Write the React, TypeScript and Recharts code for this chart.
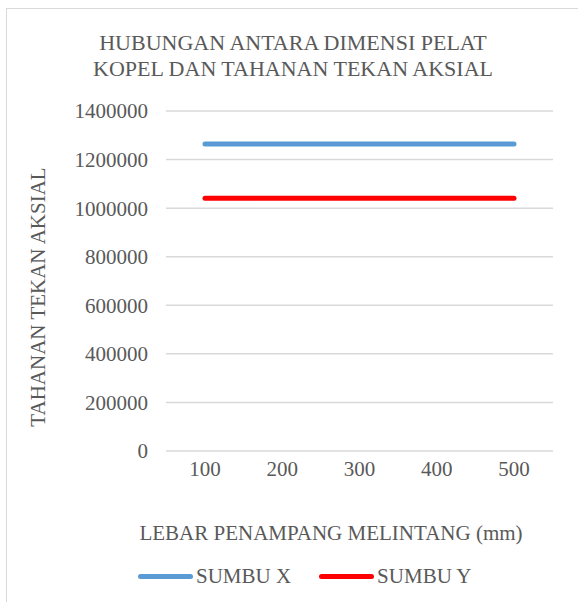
import React from "react";
import { LineChart, Line, XAxis, YAxis, CartesianGrid } from "recharts";

const categories = ["100", "200", "300", "400", "500"];
const sumbuX = [1264500, 1264500, 1264500, 1264500, 1264500];
const sumbuY = [1041000, 1041000, 1041000, 1041000, 1041000];
const yTicks = [0, 200000, 400000, 600000, 800000, 1000000, 1200000, 1400000];

const series = [
  { key: "x", name: "SUMBU X", color: "#5B9BD5", values: sumbuX },
  { key: "y", name: "SUMBU Y", color: "#FF0000", values: sumbuY },
];

const data = categories.map((c, i) => ({ cat: c, x: sumbuX[i], y: sumbuY[i] }));

const FONT = "Liberation Serif";
const TEXT = "#595959";

const YLabel = () => (
  <text
    x={38}
    y={297}
    transform="rotate(-90 38 297)"
    textAnchor="middle"
    dominantBaseline="central"
    fill={TEXT}
    fontFamily={FONT}
    fontSize={21}
  >
    TAHANAN TEKAN AKSIAL
  </text>
);

const XLabel = () => (
  <text
    x={331}
    y={533}
    textAnchor="middle"
    dominantBaseline="central"
    fill={TEXT}
    fontFamily={FONT}
    fontSize={21}
  >
    LEBAR PENAMPANG MELINTANG (mm)
  </text>
);

export default function App() {
  return (
    <div style={{ position: "absolute", left: 0, top: 0, width: 578, height: 602, background: "#fff", overflow: "hidden" }}>
      <div
        style={{
          position: "absolute",
          left: 6,
          top: 8,
          width: 640,
          height: 640,
          border: "1px solid #D9D9D9",
        }}
      />
      <div
        style={{
          position: "absolute",
          left: 0,
          top: 30,
          width: 578,
          textAlign: "center",
          fontFamily: FONT,
          fontSize: 22,
          lineHeight: "26px",
          color: TEXT,
          paddingLeft: 4,
        }}
      >
        HUBUNGAN ANTARA DIMENSI PELAT
        <br />
        KOPEL DAN TAHANAN TEKAN AKSIAL
      </div>
      <div style={{ position: "absolute", left: 0, top: 0 }}>
        <LineChart width={578} height={602} data={data} margin={{ top: 111, right: 25, bottom: 121, left: 0 }}>
          <CartesianGrid vertical={false} stroke="#D9D9D9" strokeWidth={1.5} />
          <XAxis
            dataKey="cat"
            axisLine={false}
            tickLine={false}
            height={30}
            padding={{ left: 39, right: 39 }}
            tick={{ fill: TEXT, fontFamily: FONT, fontSize: 21 }}
            tickMargin={4}
            label={<XLabel />}
          />
          <YAxis
            width={166}
            domain={[0, 1400000]}
            ticks={yTicks}
            axisLine={false}
            tickLine={false}
            interval={0}
            tick={{ fill: TEXT, fontFamily: FONT, fontSize: 21 }}
            tickMargin={12}
            label={<YLabel />}
          />
          {series.map((s) => (
            <Line
              key={s.key}
              dataKey={s.key}
              name={s.name}
              stroke={s.color}
              strokeWidth={5}
              strokeLinecap="round"
              dot={false}
              activeDot={false}
              isAnimationActive={false}
            />
          ))}
        </LineChart>
      </div>
      <div
        style={{
          position: "absolute",
          left: 138,
          top: 564,
          display: "flex",
          alignItems: "center",
          fontFamily: FONT,
          fontSize: 21,
          color: TEXT,
        }}
      >
        {series.map((s, i) => (
          <div key={s.key} style={{ display: "flex", alignItems: "center", marginRight: i === 0 ? 28 : 0 }}>
            <div style={{ width: 55, height: 5, borderRadius: 3, background: s.color, marginRight: 3 }} />
            <span>{s.name}</span>
          </div>
        ))}
      </div>
    </div>
  );
}
